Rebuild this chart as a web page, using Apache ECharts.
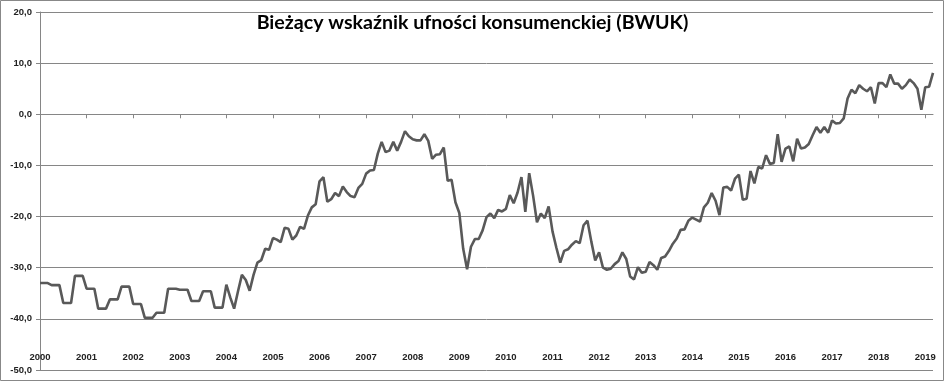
<!DOCTYPE html>
<html>
<head>
<meta charset="utf-8">
<script src="https://cdn.jsdelivr.net/npm/echarts@6/dist/echarts.min.js"></script>
<style>
html,body{margin:0;padding:0;background:#fff;}
#chart{width:945px;height:383px;}
</style>
</head>
<body>
<div id="chart"></div>
<script>
const title = 'Bieżący wskaźnik ufności konsumenckiej (BWUK)';
const years = [2000,2001,2002,2003,2004,2005,2006,2007,2008,2009,2010,2011,2012,2013,2014,2015,2016,2017,2018,2019];
const monthsIn2019 = 3;

const v2000 = [-33.0,-33.0,-33.0,-33.4,-33.4,-33.4,-36.9,-36.9,-36.9,-31.6,-31.6,-31.6];
const v2001 = [-34.1,-34.1,-34.1,-38.0,-38.0,-38.0,-36.2,-36.2,-36.2,-33.7,-33.7,-33.7];
const v2002 = [-37.1,-37.1,-37.1,-39.8,-39.8,-39.8,-38.8,-38.8,-38.8,-34.1,-34.1,-34.1];
const v2003 = [-34.3,-34.3,-34.3,-36.5,-36.5,-36.5,-34.6,-34.6,-34.6,-37.8,-37.8,-37.8];
const v2004 = [-33.3,-35.8,-38.0,-34.6,-31.4,-32.4,-34.5,-31.4,-29.0,-28.5,-26.3,-26.5];
const v2005 = [-24.2,-24.5,-25.0,-22.2,-22.4,-24.5,-23.7,-22.0,-22.4,-19.8,-18.2,-17.6];
const v2006 = [-13.1,-12.3,-17.1,-16.6,-15.4,-16.0,-14.1,-15.2,-16.0,-16.2,-14.4,-13.6];
const v2007 = [-11.6,-11.0,-10.9,-7.7,-5.4,-7.4,-7.1,-5.4,-7.1,-5.4,-3.3,-4.3];
const v2008 = [-4.9,-5.1,-5.1,-3.9,-5.2,-8.7,-7.9,-7.8,-6.5,-13.0,-12.8,-17.2];
const v2009 = [-19.3,-26.3,-30.3,-25.9,-24.4,-24.4,-22.7,-20.1,-19.4,-20.3,-18.7,-19.0];
const v2010 = [-18.5,-15.8,-17.4,-15.3,-12.3,-19.1,-11.5,-15.9,-21.1,-19.4,-20.3,-18.0];
const v2011 = [-22.9,-26.1,-29.0,-26.7,-26.4,-25.5,-24.8,-25.2,-21.7,-20.8,-24.9,-28.6];
const v2012 = [-27.0,-30.0,-30.4,-30.2,-29.3,-28.7,-27.0,-28.3,-31.7,-32.3,-29.9,-31.0];
const v2013 = [-30.8,-28.9,-29.5,-30.4,-28.1,-27.8,-26.7,-25.3,-24.3,-22.6,-22.5,-20.8];
const v2014 = [-20.2,-20.6,-21.0,-18.2,-17.3,-15.4,-16.9,-19.7,-14.3,-14.2,-14.9,-12.6];
const v2015 = [-11.8,-16.7,-16.5,-11.1,-13.5,-10.3,-10.6,-8.0,-9.7,-9.5,-3.9,-9.3];
const v2016 = [-6.7,-6.3,-9.2,-4.8,-6.7,-6.5,-5.8,-4.1,-2.5,-3.6,-2.5,-3.6];
const v2017 = [-1.2,-1.8,-1.7,-0.8,3.1,4.8,4.1,5.7,5.0,4.5,5.3,2.1];
const v2018 = [6.1,6.1,5.3,7.8,6.0,6.0,5.0,5.7,6.8,6.1,5.0,0.9];
const v2019 = [5.3,5.4,8.1];

const yTicks = [-50,-40,-30,-20,-10,0,10,20];

const values = [].concat(v2000,v2001,v2002,v2003,v2004,v2005,v2006,v2007,v2008,v2009,
  v2010,v2011,v2012,v2013,v2014,v2015,v2016,v2017,v2018,v2019);

const months = [];
years.forEach(function(y){
  const n = (y === 2019) ? monthsIn2019 : 12;
  for (let m = 1; m <= n; m++) months.push(y + '-' + (m < 10 ? '0' + m : m));
});

const isJan = function(i, v){ return String(v).slice(5) === '01'; };

const chart = echarts.init(document.getElementById('chart'), null, {renderer:'canvas'});
chart.setOption({
  animation: false,
  backgroundColor: '#fff',
  title: {
    text: title, left: 'center', top: 8,
    textStyle: {fontFamily: 'Lato', fontWeight: 'bold', fontSize: 19.6, color: '#000'}
  },
  grid: {left: 40, right: 12, top: 12, bottom: 13, containLabel: false},
  xAxis: {
    type: 'category', data: months, boundaryGap: false,
    offset: -25.6,
    axisLine: {show: true, lineStyle: {color: '#868686', width: 1}},
    axisTick: {show: true, interval: isJan, length: 4, lineStyle: {color: '#868686'}},
    axisLabel: {interval: isJan, formatter: function(v){ return v.slice(0,4); },
      margin: 8, fontFamily: 'Liberation Sans', fontWeight: 'bold', fontSize: 9.5, color: '#222'},
    splitLine: {show: false}
  },
  yAxis: {
    type: 'value', min: yTicks[0], max: yTicks[yTicks.length-1], interval: 10,
    axisLine: {show: true, lineStyle: {color: '#868686', width: 1}},
    axisTick: {show: true, length: 4, lineStyle: {color: '#868686'}},
    axisLabel: {formatter: function(v){ return v.toFixed(1).replace('.', ','); },
      margin: 8, fontFamily: 'Liberation Sans', fontWeight: 'bold', fontSize: 9.5, color: '#222'},
    splitLine: {show: true, lineStyle: {color: '#868686', width: 1}}
  },
  graphic: [{
    type: 'rect', silent: true, z: 100,
    shape: {x: 0.5, y: 0.5, width: 943, height: 380},
    style: {fill: 'none', stroke: '#888', lineWidth: 1}
  }],
  series: [{
    type: 'line', data: values, showSymbol: false, smooth: false,
    lineStyle: {color: '#595959', width: 2.6},
    z: 5
  }]
});
</script>
</body>
</html>
